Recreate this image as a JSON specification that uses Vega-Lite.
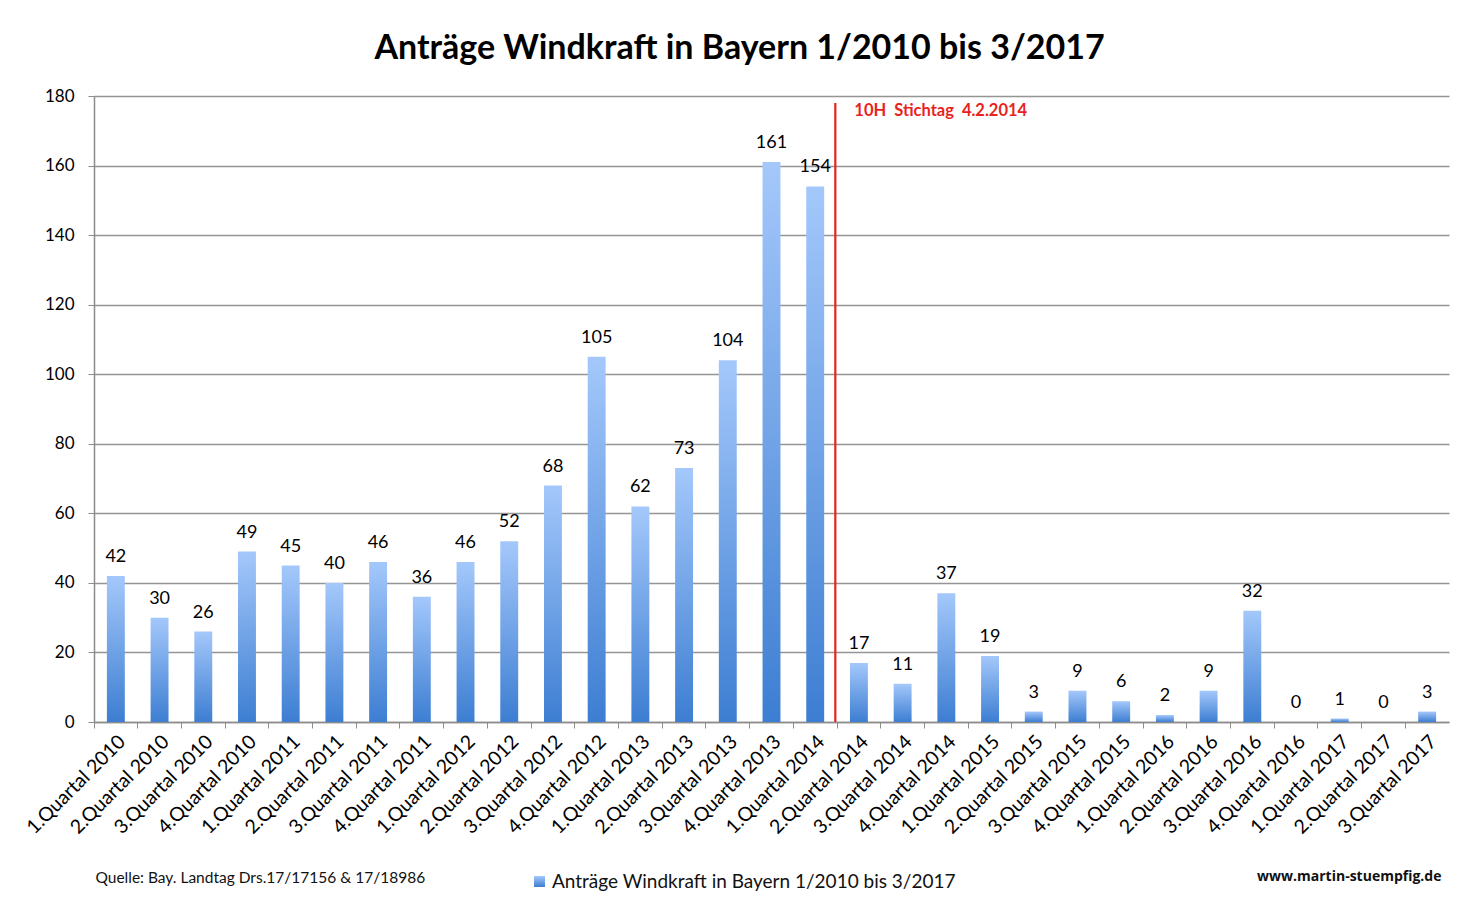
{
  "$schema": "https://vega.github.io/schema/vega-lite/v6.json",
  "autosize": {"type": "none"},
  "width": 1355,
  "height": 626,
  "padding": {"left": 94, "top": 96, "right": 29, "bottom": 195},
  "background": "white",
  "title": {
    "text": "Anträge Windkraft in Bayern 1/2010 bis 3/2017",
    "font": "Lato",
    "fontSize": 34,
    "fontWeight": "bold",
    "color": "#000000",
    "anchor": "middle",
    "dx": -32,
    "offset": 21
  },
  "config": {
    "view": {"stroke": null},
    "font": "Lato"
  },
  "datasets": {
    "antraege": [
      {"q": "1.Quartal 2010", "n": 42},
      {"q": "2.Quartal 2010", "n": 30},
      {"q": "3.Quartal 2010", "n": 26},
      {"q": "4.Quartal 2010", "n": 49},
      {"q": "1.Quartal 2011", "n": 45},
      {"q": "2.Quartal 2011", "n": 40},
      {"q": "3.Quartal 2011", "n": 46},
      {"q": "4.Quartal 2011", "n": 36},
      {"q": "1.Quartal 2012", "n": 46},
      {"q": "2.Quartal 2012", "n": 52},
      {"q": "3.Quartal 2012", "n": 68},
      {"q": "4.Quartal 2012", "n": 105},
      {"q": "1.Quartal 2013", "n": 62},
      {"q": "2.Quartal 2013", "n": 73},
      {"q": "3.Quartal 2013", "n": 104},
      {"q": "4.Quartal 2013", "n": 161},
      {"q": "1.Quartal 2014", "n": 154},
      {"q": "2.Quartal 2014", "n": 17},
      {"q": "3.Quartal 2014", "n": 11},
      {"q": "4.Quartal 2014", "n": 37},
      {"q": "1.Quartal 2015", "n": 19},
      {"q": "2.Quartal 2015", "n": 3},
      {"q": "3.Quartal 2015", "n": 9},
      {"q": "4.Quartal 2015", "n": 6},
      {"q": "1.Quartal 2016", "n": 2},
      {"q": "2.Quartal 2016", "n": 9},
      {"q": "3.Quartal 2016", "n": 32},
      {"q": "4.Quartal 2016", "n": 0},
      {"q": "1.Quartal 2017", "n": 1},
      {"q": "2.Quartal 2017", "n": 0},
      {"q": "3.Quartal 2017", "n": 3}
    ],
    "stichtag": [
      {"q": "1.Quartal 2014", "label": "10H\u00a0 Stichtag\u00a0 4.2.2014"}
    ]
  },
  "layer": [
    {
      "data": {"name": "antraege"},
      "mark": {
        "type": "bar",
        "width": {"band": 0.41},
        "color": {
          "gradient": "linear",
          "x1": 0, "y1": 0, "x2": 0, "y2": 1,
          "stops": [
            {"offset": 0, "color": "#a4c8fb"},
            {"offset": 1, "color": "#3d7ed2"}
          ]
        }
      },
      "encoding": {
        "x": {
          "field": "q",
          "type": "ordinal",
          "sort": null,
          "scale": {"paddingInner": 0, "paddingOuter": 0},
          "axis": {
            "title": "Quelle: Bay. Landtag Drs.17/17156 & 17/18986",
            "titleX": 1,
            "titleY": 155,
            "titleAlign": "left",
            "titleBaseline": "middle",
            "titleAnchor": null,
            "titleFont": "Lato",
            "titleFontSize": 15.5,
            "titleFontWeight": "normal",
            "titleColor": "#111111",
            "labelAngle": -45,
            "labelAlign": "right",
            "labelBaseline": "top",
            "labelFontSize": 19.5,
            "labelColor": "#000000",
            "labelPadding": 4,
            "labelOverlap": false,
            "bandPosition": 0,
            "tickColor": "#8c8c8c",
            "tickSize": 6,
            "domainColor": "#8c8c8c",
            "domainWidth": 1.5,
            "grid": false
          }
        },
        "y": {
          "field": "n",
          "type": "quantitative",
          "scale": {"domain": [0, 180], "nice": false},
          "axis": {
            "values": [0, 20, 40, 60, 80, 100, 120, 140, 160, 180],
            "title": "www.martin-stuempfig.de",
            "titleAngle": 0,
            "titleX": 1347,
            "titleY": 780,
            "titleAlign": "right",
            "titleBaseline": "middle",
            "titleAnchor": null,
            "titleFont": "Open Sans",
            "titleFontSize": 14,
            "titleFontWeight": "bold",
            "titleColor": "#111111",
            "labelFontSize": 17,
            "labelColor": "#000000",
            "labelPadding": 14,
            "tickColor": "#8c8c8c",
            "tickSize": 6,
            "domainColor": "#8c8c8c",
            "domainWidth": 1.5,
            "gridColor": "#959595",
            "gridWidth": 1.3
          }
        },
        "opacity": {
          "datum": "Anträge Windkraft in Bayern 1/2010 bis 3/2017",
          "type": "nominal",
          "scale": {"range": [1]},
          "legend": {
            "title": null,
            "orient": "none",
            "legendX": 436,
            "legendY": 776,
            "symbolType": "square",
            "symbolSize": 120,
            "symbolFillColor": "#4a88d8",
            "symbolStrokeColor": "#4a88d8",
            "symbolStrokeWidth": 0,
            "symbolOpacity": 1,
            "labelFontSize": 19,
            "labelColor": "#111111",
            "labelOffset": 3,
            "labelLimit": 0,
            "encode": {
              "symbols": {"update": {"fill": {"value": "#4a88d8"}, "opacity": {"value": 1}, "fillOpacity": {"value": 1}}}
            }
          }
        }
      }
    },
    {
      "data": {"name": "antraege"},
      "mark": {
        "type": "text",
        "fontSize": 18,
        "color": "#000000",
        "baseline": "bottom",
        "dy": -10
      },
      "encoding": {
        "x": {"field": "q", "type": "ordinal", "sort": null},
        "y": {"field": "n", "type": "quantitative"},
        "text": {"field": "n", "type": "quantitative"}
      }
    },
    {
      "data": {"name": "stichtag"},
      "mark": {"type": "rule", "color": "#e8231c", "strokeWidth": 2.2},
      "encoding": {
        "x": {"field": "q", "type": "ordinal", "sort": null, "bandPosition": 0.96},
        "y": {"datum": 178},
        "y2": {"datum": 0}
      }
    },
    {
      "data": {"name": "stichtag"},
      "mark": {
        "type": "text",
        "color": "#e8231c",
        "fontSize": 16.5,
        "fontWeight": "bold",
        "align": "left",
        "baseline": "middle",
        "dx": 19
      },
      "encoding": {
        "x": {"field": "q", "type": "ordinal", "sort": null, "bandPosition": 0.96},
        "y": {"datum": 175.6},
        "text": {"field": "label"}
      }
    }
  ]
}
